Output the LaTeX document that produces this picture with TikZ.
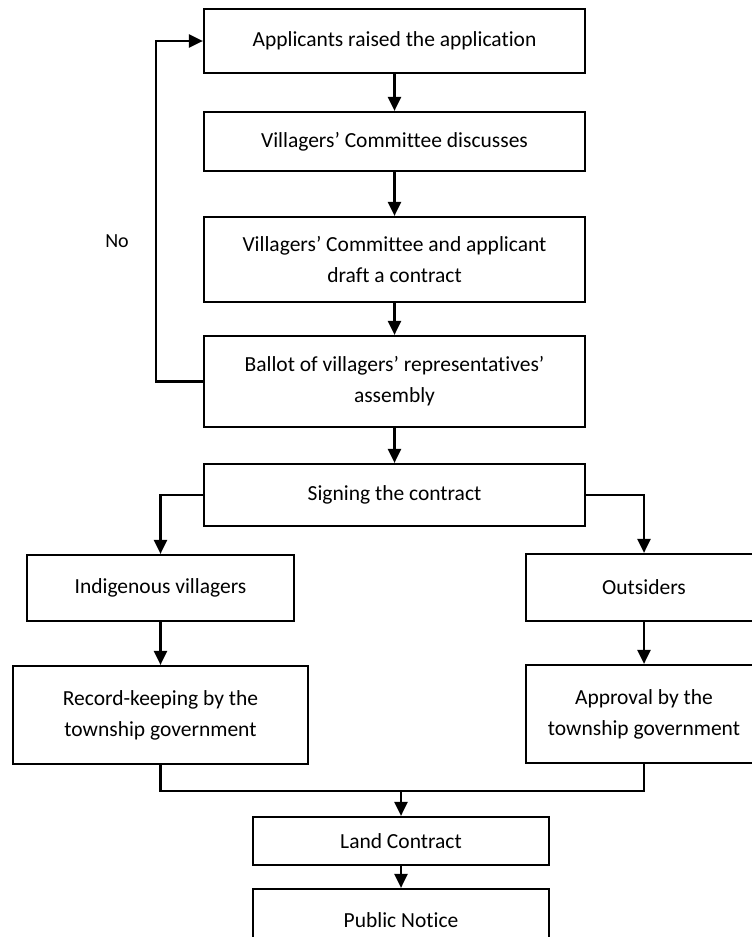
\documentclass[tikz,border=0pt]{standalone}
\usepackage{fontspec}
\setmainfont[Ligatures=NoCommon]{Carlito}
\usetikzlibrary{arrows.meta}

\begin{document}
\begin{tikzpicture}[x=1pt,y=-1pt,
  box/.style={draw, line width=2.2pt, inner sep=0pt, align=center,
    font=\fontsize{21.5}{31}\selectfont},
  link/.style={line width=2.4pt},
  arr/.style={link, -{Triangle[length=14pt,width=13pt]}}]
\useasboundingbox (0,0) rectangle (752,937);
\clip (0,0) rectangle (752,937);

% main column
\node[box, minimum width=381pt, minimum height=64pt] (apply) at (394.5,41) {Applicants raised the application};
\node[box, minimum width=381pt, minimum height=59pt] (discuss) at (394.5,141.5) {Villagers’ Committee discusses};
\node[box, minimum width=381pt, minimum height=85pt] (draft) at (394.5,259.5) {Villagers’ Committee and applicant\\draft a contract};
\node[box, minimum width=381pt, minimum height=91pt] (ballot) at (394.5,381.5) {Ballot of villagers’ representatives’\\assembly};
\node[box, minimum width=381pt, minimum height=62pt] (sign) at (394.5,495) {Signing the contract};

% two branches
\node[box, minimum width=267pt, minimum height=66pt] (indig) at (160.5,588) {Indigenous villagers};
\node[box, minimum width=236pt, minimum height=67pt] (outs) at (644,587.5) {Outsiders};
\node[box, minimum width=295pt, minimum height=98pt] (record) at (160.5,715) {Record-keeping by the\\township government};
\node[box, minimum width=236pt, minimum height=98pt] (approve) at (644,714) {Approval by the\\township government};

% final steps
\node[box, minimum width=296pt, minimum height=48pt] (land) at (401,841) {Land Contract};
\node[box, minimum width=296pt, minimum height=62pt] (notice) at (401,920) {Public Notice};

% connectors
\draw[arr] (apply) -- (discuss);
\draw[arr] (discuss) -- (draft);
\draw[arr] (draft) -- (ballot);
\draw[arr] (ballot) -- (sign);

\coordinate (loop) at (156,381.5);
\draw[arr] (ballot.west) -- (loop) |- (apply.west);
\node[font=\fontsize{20}{24}\selectfont] (no) at (117,241) {No};

\draw[arr] (sign.west) -| (indig.north);
\draw[arr] (sign.east) -| (outs.north);
\draw[arr] (indig) -- (record);
\draw[arr] (outs) -- (approve);

\coordinate (merge) at (401,791);
\draw[link] (record.south) |- (merge) -| (approve.south);
\draw[arr] (merge) -- (land.north);
\draw[arr] (land) -- (notice);
\end{tikzpicture}
\end{document}
